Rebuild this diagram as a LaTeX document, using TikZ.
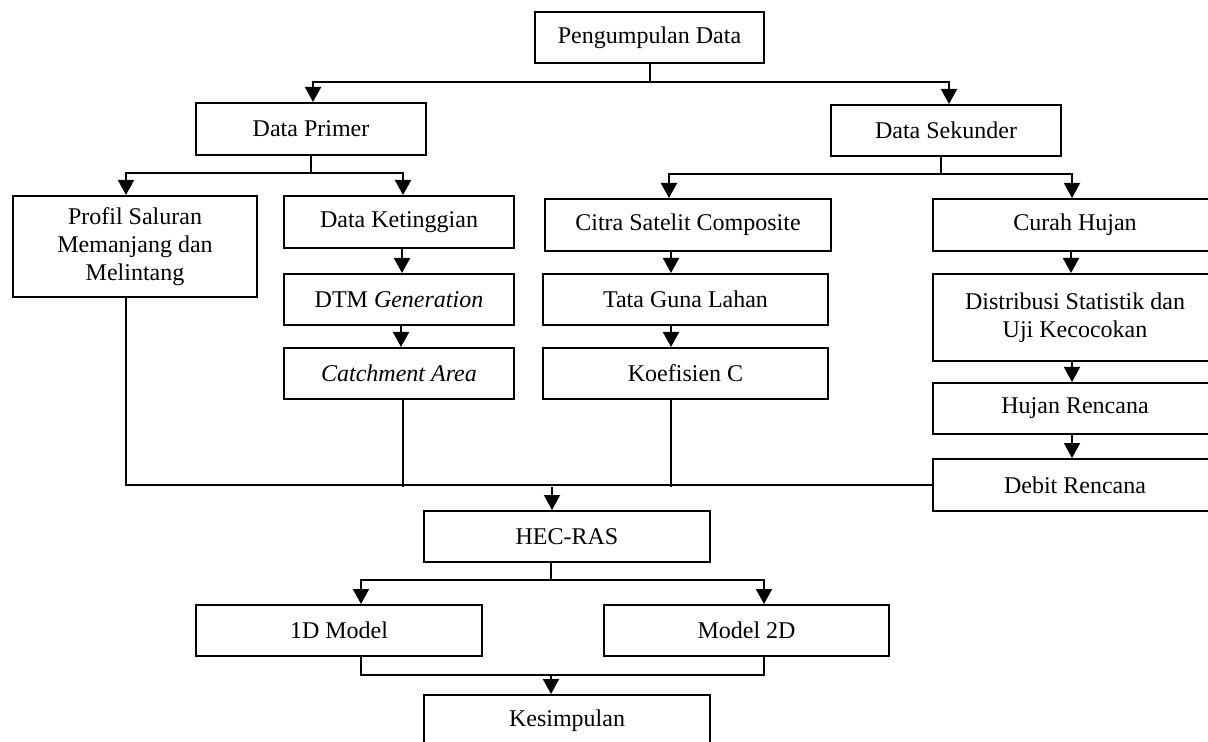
\documentclass[tikz,border=0pt]{standalone}
\usepackage{fontspec}
\setmainfont{Liberation Serif}
\usetikzlibrary{arrows.meta}

\begin{document}
\begin{tikzpicture}[x=0.5pt,y=-0.5pt,line width=1pt,
    kotak/.style={draw,align=center,inner sep=0pt,minimum height=25.5pt,
      font=\fontsize{12}{14}\selectfont},
    panah/.style={-{Triangle[width=8pt,length=7.5pt]}}]
    \clip (0,0) rectangle (1208,742);
    \node [kotak,minimum width=114.5pt] (kumpul) at (649.5,37.5) {Pengumpulan Data};
    \node [kotak,minimum width=115pt,minimum height=26pt] (primer) at (311,129) {Data Primer};
    \node [kotak,minimum width=115pt] (sekunder) at (946,130.5) {Data Sekunder};
    \node [kotak,minimum width=122pt,minimum height=50.5pt] (profil) at (135,246.5)
      {Profil Saluran\\Memanjang dan\\Melintang};
    \node [kotak,minimum width=115pt,minimum height=26pt] (tinggi) at (399,222) {Data Ketinggian};
    \node [kotak,minimum width=115pt] (dtm) at (399,299.5) {DTM \textit{Generation}};
    \node [kotak,minimum width=115pt] (catch) at (399,373.5) {\textit{Catchment Area}};
    \node [kotak,minimum width=143pt,minimum height=26pt] (citra) at (688,225) {Citra Satelit Composite};
    \node [kotak,minimum width=142.5pt] (tata) at (685.5,299.5) {Tata Guna Lahan};
    \node [kotak,minimum width=142.5pt] (koef) at (685.5,373.5) {Koefisien C};
    \node [kotak,minimum width=142pt,minimum height=26pt] (curah) at (1075,225) {Curah Hujan};
    \node [kotak,minimum width=142pt,minimum height=43.5pt] (distri) at (1075,317.5)
      {Distribusi Statistik dan\\Uji Kecocokan};
    \node [kotak,minimum width=142pt] (hujan) at (1075,408.5) {Hujan Rencana};
    \node [kotak,minimum width=142pt,minimum height=26pt] (debit) at (1075,485) {Debit Rencana};
    \node [kotak,minimum width=143pt] (hec) at (567,536.5) {HEC-RAS};
    \node [kotak,minimum width=143pt] (m1d) at (339,630.5) {1D Model};
    \node [kotak,minimum width=142.5pt] (m2d) at (746.5,630.5) {Model 2D};
    \node [kotak,minimum width=143pt] (simpul) at (567,720.5) {Kesimpulan};
    \draw [panah] (kumpul.south) |- (313,82) -- (primer.north -| 313,0);
    \draw [panah] (kumpul.south) |- (949,82) -- (sekunder.north -| 949,0);
    \draw [panah] (primer.south) |- (126,173) -- (profil.north -| 126,0);
    \draw [panah] (primer.south) |- (403,173) -- (tinggi.north -| 403,0);
    \draw [panah] (sekunder.south -| 941,0) |- (669,174) -- (citra.north -| 669,0);
    \draw [panah] (sekunder.south -| 941,0) |- (1072,174) -- (curah.north -| 1072,0);
    \draw [panah] (tinggi.south -| 402,0) -- (dtm.north -| 402,0);
    \draw [panah] (dtm.south -| 401,0) -- (catch.north -| 401,0);
    \draw [panah] (citra.south -| 671,0) -- (tata.north -| 671,0);
    \draw [panah] (tata.south -| 671,0) -- (koef.north -| 671,0);
    \draw [panah] (curah.south -| 1071,0) -- (distri.north -| 1071,0);
    \draw [panah] (distri.south -| 1072,0) -- (hujan.north -| 1072,0);
    \draw [panah] (hujan.south -| 1072,0) -- (debit.north -| 1072,0);
    \draw (profil.south -| 126,0) |- (debit.west);
    \draw (catch.south -| 403,0) -- (403,487);
    \draw (koef.south -| 671,0) -- (671,487);
    \draw [panah] (552,487) -- (hec.north -| 552,0);
    \draw [panah] (hec.south -| 551,0) |- (361,580) -- (m1d.north -| 361,0);
    \draw [panah] (hec.south -| 551,0) |- (764,580) -- (m2d.north -| 764,0);
    \draw (m1d.south -| 361,0) |- (764,675) -- (m2d.south -| 764,0);
    \draw [panah] (551,675) -- (simpul.north -| 551,0);
  \end{tikzpicture}
\end{document}
